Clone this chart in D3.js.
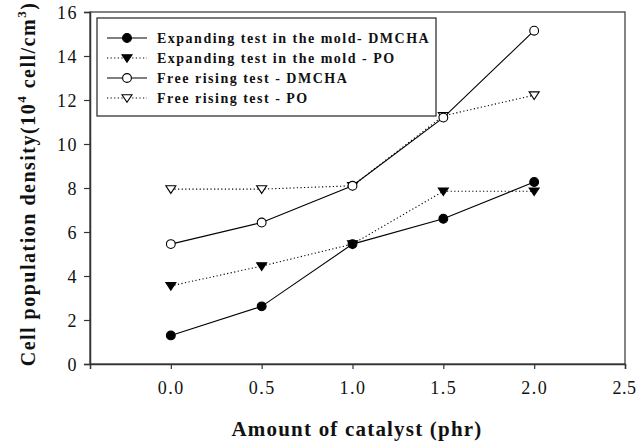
<!DOCTYPE html>
<html>
<head>
<meta charset="utf-8">
<script src="https://cdn.jsdelivr.net/npm/d3@7"></script>
<style>
  body { margin: 0; background: #fff; }
  text { font-family: "Liberation Serif", "Times New Roman", serif; }
</style>
</head>
<body>
<svg id="chart"></svg>
<script>
var width = 637;
var height = 441;
var margin = {top: 12, right: 12, bottom: 77, left: 90};

var catalyst = [0.0, 0.5, 1.0, 1.5, 2.0];
var moldDMCHA = [1.3, 2.62, 5.45, 6.6, 8.27];
var moldPO = [3.55, 4.45, 5.45, 7.85, 7.85];
var freeDMCHA = [5.45, 6.43, 8.1, 11.2, 15.15];
var freePO = [7.95, 7.95, 8.1, 11.28, 12.22];

var xTicks = [0.0, 0.5, 1.0, 1.5, 2.0, 2.5];
var yTicks = [0, 2, 4, 6, 8, 10, 12, 14, 16];

var seriesNames = [
  "Expanding test in the mold- DMCHA",
  "Expanding test in the mold - PO",
  "Free rising test - DMCHA",
  "Free rising test - PO"
];

var series = [
  {name: seriesNames[0], values: moldDMCHA, symbol: "circle", filled: true, dashed: false},
  {name: seriesNames[1], values: moldPO, symbol: "tridown", filled: true, dashed: true},
  {name: seriesNames[2], values: freeDMCHA, symbol: "circle", filled: false, dashed: false},
  {name: seriesNames[3], values: freePO, symbol: "tridown", filled: false, dashed: true}
];

var svg = d3.select("#chart")
    .attr("width", width)
    .attr("height", height);

var x = d3.scaleLinear()
  .domain([-0.445, 2.5])
  .range([margin.left, width - margin.right]);

var y = d3.scaleLinear()
  .domain([0, 16])
  .range([height - margin.bottom, margin.top]);

// frame
svg.append("rect")
  .attr("x", x.range()[0])
  .attr("y", y.range()[1])
  .attr("width", x.range()[1] - x.range()[0])
  .attr("height", y.range()[0] - y.range()[1])
  .attr("fill", "none")
  .attr("stroke", "#333")
  .attr("stroke-width", 1.2);

var xAxis = svg.append("g")
  .attr("transform", "translate(0," + y.range()[0] + ")")
  .call(d3.axisBottom(x).tickValues(xTicks).tickFormat(d3.format(".1f")).tickSize(5).tickPadding(8));

var yAxis = svg.append("g")
  .attr("transform", "translate(" + x.range()[0] + ",0)")
  .call(d3.axisLeft(y).tickValues(yTicks).tickSize(6).tickPadding(6));

[xAxis, yAxis].forEach(function(g) {
  g.select(".domain").attr("stroke", "#333").attr("stroke-width", 1.5);
  g.selectAll(".tick line").attr("stroke", "#333").attr("stroke-width", 1.2);
  g.selectAll(".tick text")
    .attr("fill", "#111")
    .style("font-family", "'Liberation Serif', serif")
    .style("font-size", "18px")
    .style("letter-spacing", "1.5px");
});
xAxis.selectAll(".tick text").attr("dy", "0.95em");
yAxis.selectAll(".tick text").attr("dy", "0.35em");
// last label sits on the right edge, keep it inside the page
xAxis.selectAll(".tick text").filter(function(d) { return d === 2.5; })
  .style("letter-spacing", "0.5px")
  .attr("dx", -1);

// axis titles
svg.append("text")
  .attr("x", 357)
  .attr("y", 436)
  .attr("text-anchor", "middle")
  .style("font-size", "21px")
  .style("font-weight", "bold")
  .style("letter-spacing", "1.2px")
  .attr("fill", "#111")
  .text("Amount of catalyst (phr)");

var yTitle = svg.append("text")
  .attr("transform", "translate(35,184) rotate(-90)")
  .attr("text-anchor", "middle")
  .style("font-size", "20px")
  .style("font-weight", "bold")
  .style("letter-spacing", "1.5px")
  .attr("fill", "#111");
yTitle.append("tspan").text("Cell population density(10");
yTitle.append("tspan").attr("dy", -9).style("font-size", "13px").text("4");
yTitle.append("tspan").attr("dy", 9).text(" cell/cm");
yTitle.append("tspan").attr("dy", -9).style("font-size", "13px").text("3");
yTitle.append("tspan").attr("dy", 9).text(")");

function drawSymbol(g, s, cx, cy) {
  if (s.symbol === "circle") {
    g.append("circle")
      .attr("cx", cx).attr("cy", cy).attr("r", 4.4)
      .attr("fill", s.filled ? "#000" : "#fff")
      .attr("stroke", "#000").attr("stroke-width", 1.1);
  } else {
    var r = 5;
    g.append("path")
      .attr("d", "M" + (cx - r) + "," + (cy - 3.3) + "L" + (cx + r) + "," + (cy - 3.3) + "L" + cx + "," + (cy + 4.3) + "Z")
      .attr("fill", s.filled ? "#000" : "#fff")
      .attr("stroke", "#000").attr("stroke-width", 1.1);
  }
}

var line = d3.line()
  .x(function(d, i) { return x(catalyst[i]); })
  .y(function(d) { return y(d); });

// dotted series first, solid on top
[1, 3, 0, 2].forEach(function(k) {
  var s = series[k];
  svg.append("path")
    .datum(s.values)
    .attr("d", line)
    .attr("fill", "none")
    .attr("stroke", "#000")
    .attr("stroke-width", 1.1)
    .attr("stroke-dasharray", s.dashed ? "1.2,2.4" : null);
});
[1, 3, 0, 2].forEach(function(k) {
  var s = series[k];
  var g = svg.append("g");
  s.values.forEach(function(v, i) {
    drawSymbol(g, s, x(catalyst[i]), y(v));
  });
});

// legend
var legend = svg.append("g");
legend.append("rect")
  .attr("x", 97).attr("y", 18)
  .attr("width", 339).attr("height", 98)
  .attr("fill", "#fff")
  .attr("stroke", "#222")
  .attr("stroke-width", 1.2);

series.forEach(function(s, i) {
  var ly = 38 + i * 20;
  legend.append("line")
    .attr("x1", 107).attr("x2", 147)
    .attr("y1", ly).attr("y2", ly)
    .attr("stroke", "#000")
    .attr("stroke-width", 1.1)
    .attr("stroke-dasharray", s.dashed ? "1.2,2.4" : null);
  drawSymbol(legend, s, 127, ly);
  legend.append("text")
    .attr("x", 157)
    .attr("y", ly + 5)
    .style("font-size", "14px")
    .style("font-weight", "bold")
    .style("letter-spacing", "1.5px")
    .attr("fill", "#111")
    .text(s.name);
});
</script>
</body>
</html>
